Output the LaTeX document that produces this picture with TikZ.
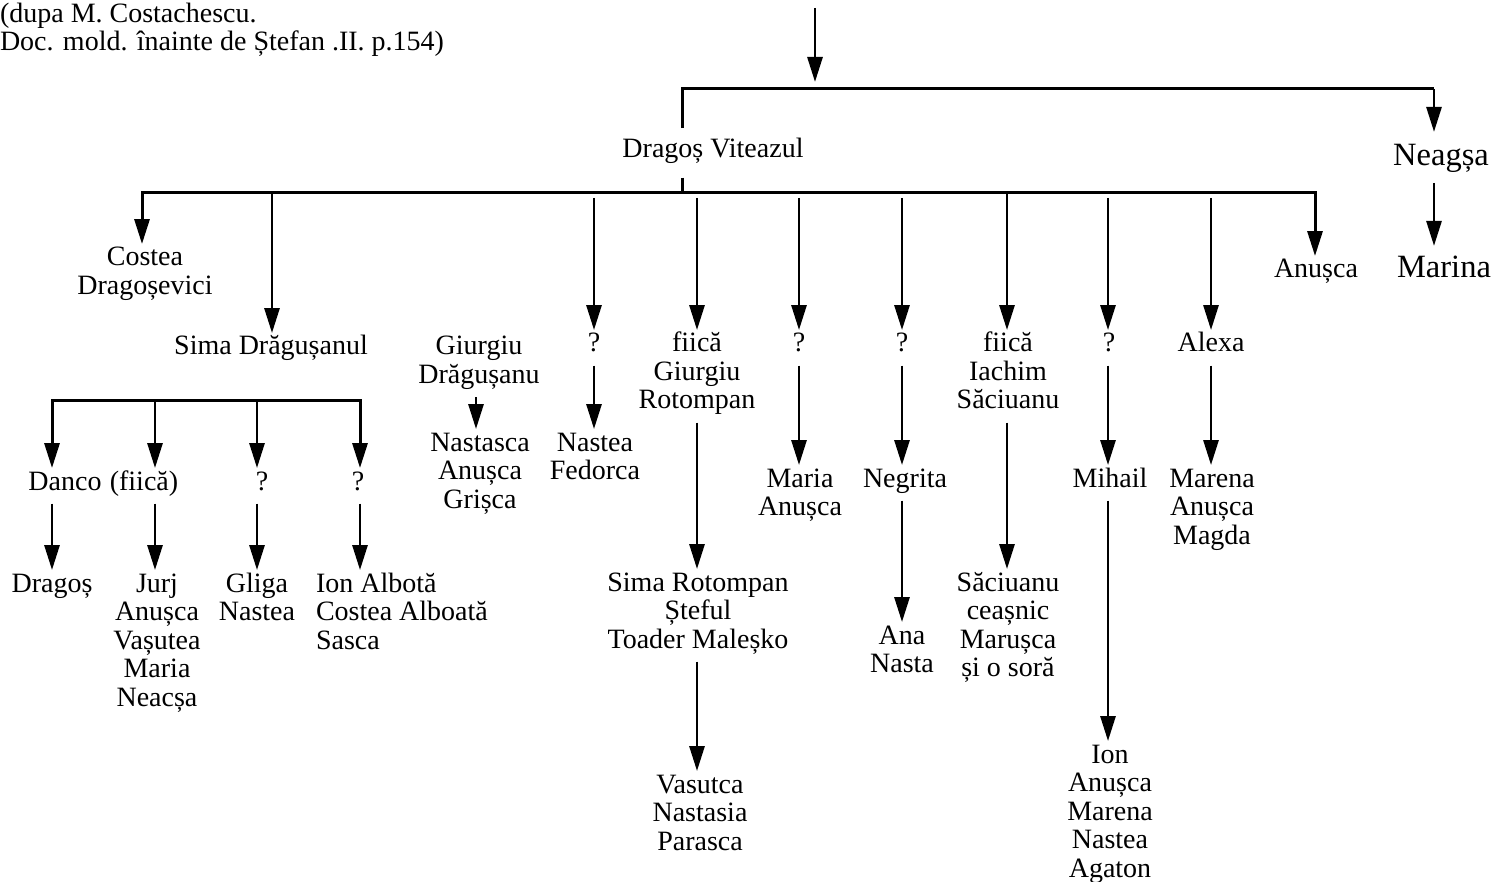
\documentclass[tikz,border=0pt]{standalone}
\usepackage{fontspec}
\setmainfont{Liberation Serif}
\usetikzlibrary{arrows.meta}
\newcommand\nl[1]{\begin{tabular}[t]{@{}c@{}}#1\end{tabular}}
\newcommand\nll[1]{\begin{tabular}[t]{@{}l@{}}#1\end{tabular}}
\begin{document}
\begin{tikzpicture}[x=1pt,y=-1pt,
  txt/.style={anchor=base, inner sep=0pt, outer sep=0pt, font=\fontsize{28}{28.5}\selectfont},
  big/.style={txt, font=\fontsize{32.5}{33}\selectfont},
  bar/.style={line width=3pt},
  arr/.style={line width=2.8pt, -{Triangle[length=25pt,width=15pt]}, shorten >=2pt},
  lnk/.style={arr, shorten <=5pt}]
\useasboundingbox (0,0) rectangle (1494,882);
% source note
\node[txt, anchor=base west] (src1) at (0,23) {(dupa M. Costachescu.};
\node[txt, anchor=base west] (src2) at (0,51) {Doc. mold. înainte de Ștefan .II. p.154)};
% level 1
\node[txt] (dv) at (713,158) {\nl{Dragoș Viteazul}};
\node[big] (ne) at (1441,166) {\nl{Neagșa}};
\node[big] (ma) at (1444,278) {\nl{Marina}};
% children of Dragos
\node[txt] (cd) at (145,266) {\nl{Costea\\Dragoșevici}};
\node[txt] (sd) at (271,355) {\nl{Sima Drăgușanul}};
\node[txt] (gd) at (479,355) {\nl{Giurgiu\\Drăgușanu}};
\node[txt] (gdc) at (480,451) {\nl{Nastasca\\Anușca\\Grișca}};
\node[txt] (q1) at (594,352) {\nl{?}};
\node[txt] (nf) at (595,451) {\nl{Nastea\\Fedorca}};
\node[txt] (fg) at (697,352) {\nl{fiică\\Giurgiu\\Rotompan}};
\node[txt] (sr) at (698,591) {\nl{Sima Rotompan\\Șteful\\Toader Maleșko}};
\node[txt] (vn) at (700,793) {\nl{Vasutca\\Nastasia\\Parasca}};
\node[txt] (q2) at (799,352) {\nl{?}};
\node[txt] (mar) at (800,487) {\nl{Maria\\Anușca}};
\node[txt] (q3) at (902,352) {\nl{?}};
\node[txt] (neg) at (905,487) {\nl{Negrita}};
\node[txt] (an) at (902,644) {\nl{Ana\\Nasta}};
\node[txt] (fi) at (1008,352) {\nl{fiică\\Iachim\\Săciuanu}};
\node[txt] (sa) at (1008,591) {\nl{Săciuanu\\ceașnic\\Marușca\\și o soră}};
\node[txt] (q4) at (1109,352) {\nl{?}};
\node[txt] (mi) at (1110,487) {\nl{Mihail}};
\node[txt] (ion) at (1110,763) {\nl{Ion\\Anușca\\Marena\\Nastea\\Agaton}};
\node[txt] (al) at (1211,352) {\nl{Alexa}};
\node[txt] (mam) at (1212,487) {\nl{Marena\\Anușca\\Magda}};
\node[txt] (anu) at (1316,278) {\nl{Anușca}};
% children of Sima
\node[txt] (dan) at (65,490) {\nl{Danco}};
\node[txt] (fii) at (144,490) {\nl{(fiică)}};
\node[txt] (q5) at (262,490) {\nl{?}};
\node[txt] (q6) at (358,490) {\nl{?}};
\node[txt] (dr) at (52,592) {\nl{Dragoș}};
\node[txt] (ju) at (157,592) {\nl{Jurj\\Anușca\\Vașutea\\Maria\\Neacșa}};
\node[txt] (gl) at (257,592) {\nl{Gliga\\Nastea}};
\node[txt, anchor=base west] (io) at (316,592) {\nll{Ion Albotă\\Costea Alboată\\Sasca}};
% coordinates
\coordinate (top) at (815,8);
\coordinate (tl) at (682,89);
\coordinate (tr) at (1434,89);
\coordinate (mb1) at (142,193);
\coordinate (mb2) at (1315,193);
\coordinate (sb1) at (52,401);
\coordinate (sb2) at (360,401);
\coordinate (x2) at (155,0);
\coordinate (x3) at (257,0);
\coordinate (x9) at (1108,0);
% top
\draw[arr, shorten >=7pt] (top) -- (top |- tl);
\draw[bar, shorten <=10pt] (dv.north -| tl) -- (tl) -- (tr);
\draw[arr, shorten >=11pt] (tr) -- (ne.north -| tr);
\draw[lnk, shorten <=7pt, shorten >=9pt] (ne.south -| tr) -- (ma.north -| tr);
% main bar
\draw[bar, shorten <=11pt] (dv.south -| tl) -- (tl |- mb1);
\draw[bar, {Triangle[length=25pt,width=15pt]}-{Triangle[length=25pt,width=15pt]}, shorten <=2pt, shorten >=2pt]
  (cd.north -| mb1) -- (mb1) -- (mb2) -- (anu.north -| mb2);
\draw[arr] (mb1 -| 272,0) -- (sd.north -| 272,0);
\draw[lnk] (mb1 -| q1) -- (q1.north);
\draw[lnk] (mb1 -| fg) -- (fg.north);
\draw[lnk] (mb1 -| q2) -- (q2.north);
\draw[lnk] (mb1 -| q3) -- (q3.north);
\draw[arr] (mb1 -| 1007,0) -- (fi.north -| 1007,0);
\draw[lnk] (mb1 -| x9) -- (q4.north -| x9);
\draw[lnk] (mb1 -| al) -- (al.north);
% second level links
\draw[lnk] (gd.south -| 476,0) -- (gdc.north -| 476,0);
\draw[lnk] (q1) -- (nf.north -| q1);
\draw[lnk] (fg.south) -- (sr.north -| fg);
\draw[lnk] (sr.south -| fg) -- (vn.north -| fg);
\draw[lnk] (q2) -- (mar.north -| q2);
\draw[lnk] (q3) -- (neg.north -| q3);
\draw[lnk] (neg.south -| q3) -- (an.north -| q3);
\draw[lnk] (fi.south -| 1007,0) -- (sa.north -| 1007,0);
\draw[lnk] (q4.south -| x9) -- (mi.north -| x9);
\draw[lnk] (mi.south -| x9) -- (ion.north -| x9);
\draw[lnk] (al) -- (mam.north -| al);
% Sima's family
\draw[bar, {Triangle[length=25pt,width=15pt]}-{Triangle[length=25pt,width=15pt]}, shorten <=2pt, shorten >=2pt]
  (dan.north -| sb1) -- (sb1) -- (sb2) -- (q6.north -| sb2);
\draw[arr] (sb1 -| x2) -- (fii.north -| x2);
\draw[arr] (sb1 -| x3) -- (q5.north -| x3);
\draw[lnk] (dan.south -| sb1) -- (dr.north -| sb1);
\draw[lnk] (fii.south -| x2) -- (ju.north -| x2);
\draw[lnk] (q5.south -| x3) -- (gl.north -| x3);
\draw[lnk] (q6.south -| sb2) -- (io.north -| sb2);
\end{tikzpicture}
\end{document}
